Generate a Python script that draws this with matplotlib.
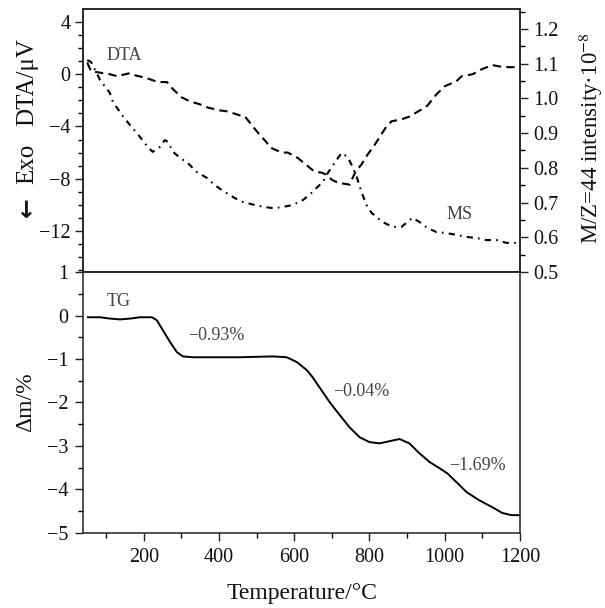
import numpy as np
import matplotlib
matplotlib.use("Agg")
import matplotlib.pyplot as plt
from matplotlib.ticker import MultipleLocator

plt.rcParams['font.family'] = ['Liberation Serif', 'DejaVu Serif']
plt.rcParams['mathtext.fontset'] = 'stix'

# DTA (left axis, uV)
dta_t = [50, 60, 110, 129, 163, 177, 208, 238, 262, 278, 301, 323, 349, 370, 402, 424,
         455, 469, 490, 503, 527, 535, 567, 583, 609, 628, 654, 673, 686, 700, 715, 747,
         753, 763, 779, 795, 814, 845, 859, 885, 907, 938, 954, 978, 1000, 1031, 1045,
         1074, 1098, 1127, 1145, 1172, 1195]
dta_v = [0.9, 0.23, 0.0, -0.15, 0.08, -0.08, -0.3, -0.6, -0.6, -1.15, -1.77, -2.08, -2.3,
         -2.55, -2.77, -2.85, -3.15, -3.23, -4.0, -4.46, -5.23, -5.6, -6.0, -6.0, -6.4,
         -6.85, -7.46, -7.54, -7.7, -8.08, -8.3, -8.46, -8.08, -7.46, -6.9, -6.15, -5.4,
         -4.0, -3.6, -3.46, -3.23, -2.7, -2.4, -1.54, -0.92, -0.54, -0.15, 0.0, 0.38, 0.7,
         0.6, 0.54, 0.54]

# MS m/z=44 (right axis)
ms_t = [50, 60, 84, 110, 118, 145, 163, 190, 211, 224, 243, 256, 264, 278, 296, 317, 341,
        368, 389, 416, 447, 463, 495, 522, 543, 569, 596, 623, 646, 662, 676, 689, 707,
        726, 742, 755, 766, 779, 792, 806, 835, 861, 885, 901, 914, 933, 954, 978, 1005,
        1031, 1058, 1084, 1111, 1137, 1164, 1195]
ms_v = [1.11, 1.105, 1.053, 1.016, 0.99, 0.948, 0.924, 0.889, 0.86, 0.846, 0.86, 0.88,
        0.875, 0.846, 0.829, 0.814, 0.788, 0.771, 0.75, 0.73, 0.71, 0.702, 0.693, 0.687,
        0.684, 0.687, 0.693, 0.707, 0.728, 0.745, 0.759, 0.785, 0.814, 0.843, 0.831,
        0.803, 0.774, 0.73, 0.693, 0.67, 0.644, 0.63, 0.63, 0.644, 0.656, 0.644, 0.627,
        0.615, 0.612, 0.607, 0.601, 0.598, 0.592, 0.592, 0.584, 0.584]

# TG (%)
tg_t = [52, 84, 110, 137, 165, 190, 222, 235, 251, 270, 288, 304, 331, 384, 455, 543, 580,
        607, 634, 649, 667, 694, 721, 747, 774, 800, 827, 853, 880, 906, 933, 960, 986,
        1007, 1031, 1058, 1092, 1127, 1153, 1177, 1198]
tg_v = [-0.04, -0.04, -0.07, -0.09, -0.07, -0.04, -0.04, -0.11, -0.34, -0.61, -0.84, -0.94,
        -0.96, -0.96, -0.96, -0.94, -0.96, -1.07, -1.26, -1.42, -1.65, -1.99, -2.29, -2.57,
        -2.80, -2.91, -2.94, -2.89, -2.84, -2.94, -3.17, -3.37, -3.51, -3.63, -3.83, -4.06,
        -4.25, -4.41, -4.54, -4.59, -4.59]

tg_notes = ["\u22120.93%", "\u22120.04%", "\u22121.69%"]
tg_note_t = [392, 779, 1087]
tg_note_v = [-0.47, -1.74, -3.46]

fig = plt.figure(figsize=(6.05, 6.08), dpi=100)
ax1 = fig.add_axes([0.138, 0.5526, 0.7215, 0.4318])
ax2 = fig.add_axes([0.138, 0.1234, 0.7215, 0.4292])
ax1r = ax1.twinx()

lw = 1.5
ax1.plot(dta_t, dta_v, color='black', lw=lw, dashes=(4, 2.5))
ax1r.plot(ms_t, ms_v, color='black', lw=lw, dashes=(3, 2.5, 0.8, 2.5))
ax2.plot(tg_t, tg_v, color='black', lw=1.4, solid_joinstyle='round')

xmin, xmax = 40, 1200
for a in (ax1, ax2):
    a.set_xlim(xmin, xmax)
ax1.set_ylim(-15.15, 4.96)
ax1r.set_ylim(0.5, 1.256)
ax2.set_ylim(-5, 1)

tick_kw = dict(direction='out', color='#222222', labelcolor='#111111', labelsize=14.5, width=1.0)
ax1.yaxis.set_major_locator(MultipleLocator(4))
ax1.yaxis.set_minor_locator(MultipleLocator(1))
ax1.tick_params(axis='y', which='major', length=6, **tick_kw)
ax1.tick_params(axis='y', which='minor', length=3.5, direction='out', width=1.0)
ax1.tick_params(axis='x', which='both', bottom=False, labelbottom=False)
ax1.set_yticks([-12, -8, -4, 0, 4])

ax1r.yaxis.set_minor_locator(MultipleLocator(0.05))
ax1r.set_yticks([0.5, 0.6, 0.7, 0.8, 0.9, 1.0, 1.1, 1.2])
ax1r.set_yticklabels(['0.5', '0.6', '0.7', '0.8', '0.9', '1.0', '1.1', '1.2'])
ax1r.tick_params(axis='y', which='major', length=6, **tick_kw)
ax1r.tick_params(axis='y', which='minor', length=3.5, direction='out', width=1.0)

ax2.yaxis.set_major_locator(MultipleLocator(1))
ax2.yaxis.set_minor_locator(MultipleLocator(0.5))
ax2.xaxis.set_minor_locator(MultipleLocator(100))
ax2.set_xticks([200, 400, 600, 800, 1000, 1200])
ax2.tick_params(axis='both', which='major', length=6, pad=5, **tick_kw)
ax2.tick_params(axis='both', which='minor', length=3.5, direction='out', width=1.0)
ax2.set_xlim(xmin, xmax)

for a in (ax1, ax1r, ax2):
    for s in a.spines.values():
        s.set_linewidth(1.1)
        s.set_color('#222222')

# curve labels
note_kw = dict(fontsize=13, color='#444444')
ax1.text(102, 1.46, "DTA", ha='left', va='center', **note_kw)
ax1r.text(1040, 0.667, "MS", ha='center', va='center', **note_kw)
ax2.text(134, 0.33, "TG", ha='center', va='center', **note_kw)
for s, t, v in zip(tg_notes, tg_note_t, tg_note_v):
    ax2.text(t, v, s, ha='center', va='center', **note_kw)

# axis titles
lab_kw = dict(rotation=90, ha='center', va='center', color='#111111')
fig.text(27 / 605, 1 - 82 / 608, "DTA/\u03bcV", fontsize=18, **lab_kw)
fig.text(27 / 605, 1 - 164 / 608, "Exo", fontsize=18, **lab_kw)
fig.text(26 / 605, 1 - 207 / 608, "\u2190", fontsize=17, fontweight='bold',
         family=['DejaVu Sans'], **lab_kw)
fig.text(591 / 605, 1 - 138.5 / 608, "M/Z=44 intensity\u00b710$^{-8}$",
         fontsize=16.5, **lab_kw)
fig.text(26 / 605, 1 - 402 / 608, "\u0394m/%", fontsize=17, **lab_kw)
fig.text(302 / 605, 1 - 593 / 608, "Temperature/\u00b0C",
         ha='center', va='center', fontsize=17, color='#111111')

fig.savefig("out.png", dpi=100)
